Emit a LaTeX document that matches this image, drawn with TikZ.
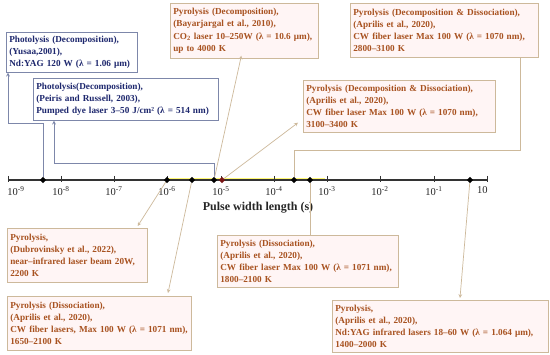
\documentclass[tikz,border=0pt]{standalone}
\usepackage{fontspec}
\setmainfont{Liberation Serif}
\usepackage{xcolor}
\usepackage{tikz}
\usetikzlibrary{positioning, shapes.geometric, calc}

\definecolor{navytext}{RGB}{30,40,110}
\definecolor{navyline}{RGB}{125,135,170}
\definecolor{rusttext}{RGB}{168,82,32}
\definecolor{tanline}{RGB}{205,185,155}
\definecolor{pinkfill}{RGB}{255,245,245}
\definecolor{markred}{RGB}{120,20,20}

\begin{document}
\begin{tikzpicture}[
			x=1pt, y=-1pt,
			photobox/.style={rectangle, draw=navyline, fill=white, line width=0.7pt, anchor=north west, align=left, inner xsep=3pt, inner ysep=2pt, font=\fontsize{9.2}{12.3}\selectfont\bfseries, text=navytext},
			pyrobox/.style={photobox, draw=tanline, fill=pinkfill, text=rusttext},
			marker/.style={diamond, fill=black, inner sep=0pt, minimum size=6.5pt},
			tick/.style={line width=0.8pt, black!80},
			ticklabel/.style={font=\fontsize{10.5}{12}\selectfont, text=black!85, inner sep=1pt},
			bluelink/.style={draw=navyline, line width=0.7pt},
			tanlink/.style={draw=tanline, line width=0.7pt},
			arrow/.style={->, >=stealth}
			]
			
			\fill[white] (0,0) rectangle (550,355);
			\useasboundingbox (0,0) rectangle (550,355);
			
			\node[photobox, text width=125pt, minimum height=40pt] (yusaa) at (6,32) {Photolysis (Decomposition),\\(Yusaa,2001),\\Nd:YAG 120 W (λ =  1.06 μm)};
			\node[photobox, text width=179pt, minimum height=42pt] (peiris) at (33,78) {Photolysis(Decomposition),\\(Peiris and Russell, 2003),\\Pumped dye laser 3–50 J/cm² (λ = 514 nm)};
			\node[pyrobox, text width=142pt, minimum height=55pt] (bayar) at (170,3) {Pyrolysis (Decomposition),\\(Bayarjargal et al., 2010),\\CO\textsubscript{2} laser  10–250W (λ = 10.6 μm),\\up to 4000 K};
			\node[pyrobox, text width=182pt, minimum height=54pt] (apr2800) at (350,3) {Pyrolysis (Decomposition \& Dissociation),\\(Aprilis et al., 2020),\\CW fiber laser Max 100 W (λ = 1070 nm),\\2800–3100 K};
			\node[pyrobox, text width=186pt, minimum height=52pt] (apr3100) at (303,80) {Pyrolysis (Decomposition \& Dissociation),\\(Aprilis et al., 2020),\\CW fiber laser Max 100 W (λ = 1070 nm),\\3100–3400 K};
			\node[pyrobox, text width=134pt, minimum height=54pt] (dubrov) at (7,228) {Pyrolysis,\\(Dubrovinsky et al., 2022),\\near–infrared laser beam 20W,\\2200 K};
			\node[pyrobox, text width=178pt, minimum height=54pt] (apr1650) at (7,296) {Pyrolysis (Dissociation),\\(Aprilis et al., 2020),\\CW fiber lasers, Max 100 W (λ = 1071 nm),\\1650–2100 K};
			\node[pyrobox, text width=175pt, minimum height=52pt] (apr1800) at (217,235) {Pyrolysis (Dissociation),\\(Aprilis et al., 2020),\\CW fiber laser Max 100 W (λ = 1071 nm),\\1800–2100 K};
			\node[pyrobox, text width=210pt, minimum height=52pt] (apr1400) at (332,300) {Pyrolysis,\\(Aprilis et al., 2020),\\Nd:YAG infrared lasers 18–60 W (λ  =  1.064 μm),\\1400–2000 K};
			
			\draw[yellow!55!white, line width=1pt] (167,178.3) -- (325,178.3);
			\draw[line width=1.6pt, black!80] (8,180) -- (487,180);
			
			\draw[tick] (8,176) -- (8,182) node[ticklabel, below right=3pt and -2pt] {10\textsuperscript{-9}};
			\draw[tick] (61,176) -- (61,182) node[ticklabel, below=3pt] {10\textsuperscript{-8}};
			\draw[tick] (114,176) -- (114,182) node[ticklabel, below=3pt] {10\textsuperscript{-7}};
			\draw[tick] (167,176) -- (167,182) node[ticklabel, below=3pt] {10\textsuperscript{-6}};
			\draw[tick] (221,176) -- (221,182) node[ticklabel, below=3pt] {10\textsuperscript{-5}};
			\draw[tick] (274,176) -- (274,182) node[ticklabel, below=3pt] {10\textsuperscript{-4}};
			\draw[tick] (327,176) -- (327,182) node[ticklabel, below=3pt] {10\textsuperscript{-3}};
			\draw[tick] (380,176) -- (380,182) node[ticklabel, below=3pt] {10\textsuperscript{-2}};
			\draw[tick] (434,176) -- (434,182) node[ticklabel, below=3pt] {10\textsuperscript{-1}};
			\draw[tick] (487,176) -- (487,182) node[ticklabel, below left=3pt and -2pt] {10};
			
			\node[font=\fontsize{12}{14}\selectfont\bfseries, text=black!85] (xlabel) at (258,208) {Pulse width length (s)};
			
			\node[marker] (m1) at (43,180) {};
			\node[marker] (m2) at (167,180) {};
			\node[marker] (m3) at (192,180) {};
			\node[marker] (m4) at (214,180) {};
			\node[marker, fill=markred] (m5) at (222,180) {};
			\node[marker] (m6) at (294,180) {};
			\node[marker] (m7) at (310,180) {};
			\node[marker] (m8) at (470,180) {};
			
			\coordinate (yk) at (8,123);
			\coordinate (pk) at (54,163);
			\coordinate (ak) at (520,150);
			
			\draw[bluelink, arrow] (m1) |- (yk) -- (yk |- yusaa.south);
			\draw[bluelink, arrow] (m4) |- (pk) -- (pk |- peiris.south);
			\draw[tanlink, arrow] (m4) -- ($(bayar.south)+(-3,-3)$);
			\draw[tanlink, arrow] (m5) -- ($(apr3100.south west)+(-5,-10)$);
			\draw[tanlink] (m6) |- (ak) -- (ak |- apr2800.south);
			\draw[tanlink] (m7) -- (m7 |- apr1800.north);
			\draw[tanlink, arrow] (m2) -- ($(dubrov.north east)+(-10,-2)$);
			\draw[tanlink, arrow] (m3) -- ($(apr1650.north west)+(161,-3)$);
			\draw[tanlink, arrow] (m8) -- ($(apr1400.north west)+(128,-2)$);
			
		\end{tikzpicture}
\end{document}
